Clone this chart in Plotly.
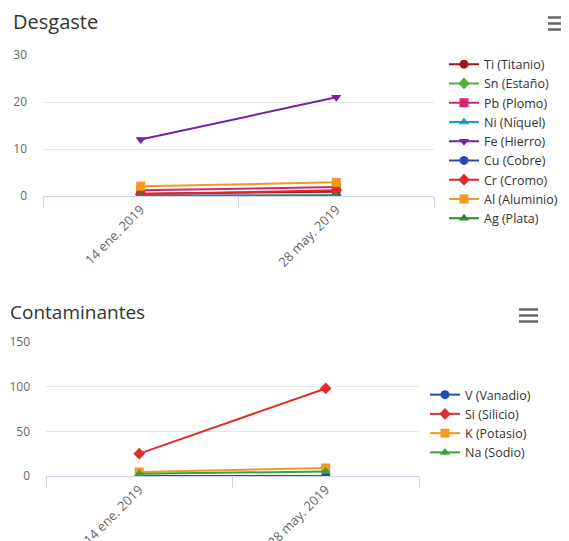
import plotly.graph_objects as go

W, H = 569, 541

dates = ["14 ene. 2019", "28 may. 2019"]

# Desgaste
wear_names = ["Ti (Titanio)", "Sn (Estaño)", "Pb (Plomo)", "Ni (Níquel)", "Fe (Hierro)",
              "Cu (Cobre)", "Cr (Cromo)", "Al (Aluminio)", "Ag (Plata)"]
ti = [0.5, 0.9]
sn = [0.0, 0.0]
pb = [1.2, 1.9]
ni = [0.0, 0.0]
fe = [12.0, 21.0]
cu = [0.1, 0.1]
cr = [0.4, 1.2]
al = [2.1, 2.9]
ag = [0.0, 0.1]
wear_values = [ti, sn, pb, ni, fe, cu, cr, al, ag]
wear_colors = ["#a0171b", "#55b040", "#d6246e", "#1a9bc4", "#7b1fa2",
               "#2a4ab0", "#e3262b", "#f39a1e", "#2e8b2e"]
wear_symbols = ["circle", "diamond", "square", "triangle-up", "triangle-down",
                "circle", "diamond", "square", "triangle-up"]

# Contaminantes
cont_names = ["V (Vanadio)", "Si (Silicio)", "K (Potasio)", "Na (Sodio)"]
v = [0.0, 0.0]
si = [25.0, 98.0]
k = [4.5, 9.0]
na = [2.5, 5.0]
cont_values = [v, si, k, na]
cont_colors = ["#1f4fae", "#e02d2d", "#f39a1e", "#3ca03c"]
cont_symbols = ["circle", "diamond", "square", "triangle-up"]

wear_ticks = [0, 10, 20, 30]
cont_ticks = [0, 50, 100, 150]

fig = go.Figure()

for name, vals, col, sym in zip(wear_names, wear_values, wear_colors, wear_symbols):
    fig.add_trace(go.Scatter(x=dates, y=vals, name=name, mode="lines+markers",
                             line=dict(color=col, width=2),
                             marker=dict(symbol=sym, size=9, color=col),
                             xaxis="x", yaxis="y", legend="legend"))

for name, vals, col, sym in zip(cont_names, cont_values, cont_colors, cont_symbols):
    fig.add_trace(go.Scatter(x=dates, y=vals, name=name, mode="lines+markers",
                             line=dict(color=col, width=2),
                             marker=dict(symbol=sym, size=9, color=col),
                             xaxis="x2", yaxis="y2", legend="legend2"))

# the page body has an 8px margin; positions below are window pixels
OX, OY = 8, 8

def px_x(p):
    return (p - OX) / W

def px_y(p):
    return 1 - (p - OY) / H

axis_common = dict(type="category", range=[-0.5, 1.5], tickson="boundaries",
                   ticks="outside", ticklen=11, tickcolor="#ccd6eb", tickwidth=1,
                   showline=True, linecolor="#ccd6eb", linewidth=1,
                   showgrid=False, tickangle=-45, zeroline=False, automargin=False,
                   tickfont=dict(size=13, color="#666666"))
yaxis_common = dict(showgrid=True, gridcolor="#e6e6e6", gridwidth=1, zeroline=False,
                    showline=False, ticks="", automargin=False, ticklabelstandoff=15,
                    tickfont=dict(size=12, color="#666666"))

fig.update_layout(
    width=W, height=H,
    margin=dict(l=0, r=0, t=0, b=0, autoexpand=False),
    paper_bgcolor="white", plot_bgcolor="white",
    font=dict(family="Open Sans, sans-serif", color="#333333"),
    xaxis=dict(domain=[px_x(43), px_x(434)], anchor="y", **axis_common),
    yaxis=dict(domain=[px_y(196), px_y(55)], anchor="x", range=[0, 30],
               tickvals=wear_ticks, **yaxis_common),
    xaxis2=dict(domain=[px_x(46), px_x(419)], anchor="y2", **axis_common),
    yaxis2=dict(domain=[px_y(476), px_y(342)], anchor="x2", range=[0, 150],
                tickvals=cont_ticks, **yaxis_common),
    legend=dict(x=px_x(444), y=px_y(49.5), xanchor="left", yanchor="top",
                font=dict(size=12.5, color="#333333"), bgcolor="rgba(0,0,0,0)",
                tracegroupgap=0),
    legend2=dict(x=px_x(425), y=px_y(380), xanchor="left", yanchor="top",
                 font=dict(size=12.5, color="#333333"), bgcolor="rgba(0,0,0,0)",
                 tracegroupgap=0),
    showlegend=True,
    annotations=[
        dict(text="Desgaste", x=px_x(11), y=px_y(22), xref="paper", yref="paper",
             xanchor="left", yanchor="middle", showarrow=False,
             font=dict(size=20, color="#333333")),
        dict(text="Contaminantes", x=px_x(8), y=px_y(312), xref="paper", yref="paper",
             xanchor="left", yanchor="middle", showarrow=False,
             font=dict(size=19, color="#333333")),
    ],
)

# hamburger menu icons
shapes = []
for (x0, x1, ys) in [(548, 568, [17.5, 23.5, 29.5]), (519, 538, [309.5, 315.5, 321.5])]:
    for yy in ys:
        shapes.append(dict(type="line", xref="paper", yref="paper",
                           x0=px_x(x0), x1=px_x(x1), y0=px_y(yy), y1=px_y(yy),
                           line=dict(color="#666666", width=2.5)))
fig.update_layout(shapes=shapes)

fig.write_html("out.html")
